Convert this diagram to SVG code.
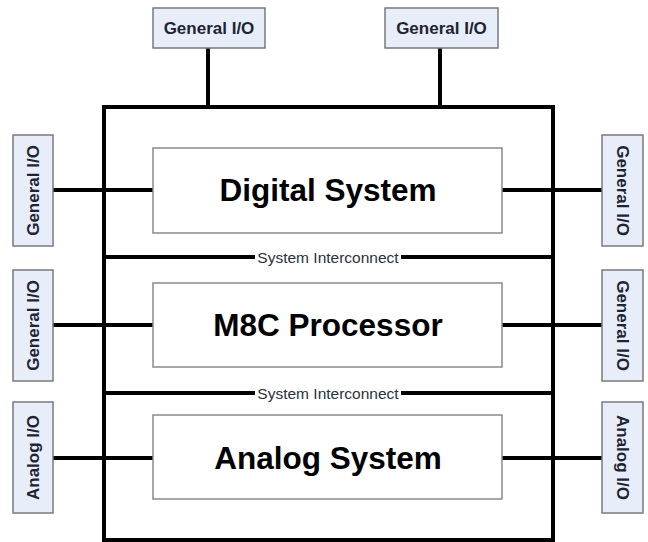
<svg xmlns="http://www.w3.org/2000/svg" width="648" height="542" viewBox="0 0 648 542">
<style>
.io{fill:#e8eef9;stroke:#7a7a7a;stroke-width:1.5}
.iot{font-family:"Liberation Sans",Arial,sans-serif;font-weight:bold;font-size:17px;fill:#1e2433}
.blk{fill:#fff;stroke:#8a8a8a;stroke-width:1.5}
.blt{font-family:"Liberation Sans",Arial,sans-serif;font-weight:bold;font-size:31.5px;fill:#000}
.wire{stroke:#000;stroke-width:4;fill:none}
.sic{font-family:"Liberation Sans",Arial,sans-serif;font-size:15.5px;fill:#2a3040}
</style>
<rect width="648" height="542" fill="#fff"/>
<g id="connectors">
<line class="wire" x1="208" y1="48" x2="208" y2="107"/>
<line class="wire" x1="440" y1="48" x2="440" y2="107"/>
<line class="wire" x1="53" y1="190" x2="155" y2="190"/>
<line class="wire" x1="502" y1="190" x2="602" y2="190"/>
<line class="wire" x1="53" y1="325" x2="155" y2="325"/>
<line class="wire" x1="502" y1="325" x2="602" y2="325"/>
<line class="wire" x1="53" y1="458" x2="155" y2="458"/>
<line class="wire" x1="502" y1="458" x2="602" y2="458"/>
</g>
<g id="outer">
<rect x="104" y="107" width="449" height="433" fill="none" stroke="#000" stroke-width="4"/>
</g>
<g id="interconnect1">
<line class="wire" x1="104" y1="257" x2="255" y2="257"/>
<line class="wire" x1="401" y1="257" x2="553" y2="257"/>
<text class="sic" x="328" y="262.5" text-anchor="middle">System Interconnect</text>
</g>
<g id="interconnect2">
<line class="wire" x1="104" y1="393" x2="255" y2="393"/>
<line class="wire" x1="401" y1="393" x2="553" y2="393"/>
<text class="sic" x="328" y="398.5" text-anchor="middle">System Interconnect</text>
</g>
<g id="digital">
<rect class="blk" x="153" y="148" width="349" height="85"/>
<text class="blt" x="328" y="201" text-anchor="middle">Digital System</text>
</g>
<g id="m8c">
<rect class="blk" x="153" y="283" width="349" height="84"/>
<text class="blt" x="328" y="336" text-anchor="middle">M8C Processor</text>
</g>
<g id="analog">
<rect class="blk" x="153" y="415" width="349" height="84"/>
<text class="blt" x="328" y="469" text-anchor="middle">Analog System</text>
</g>
<g id="io-top-left">
<rect class="io" x="153" y="8" width="112" height="40"/>
<text class="iot" x="209" y="33.5" text-anchor="middle">General I/O</text>
</g>
<g id="io-top-right">
<rect class="io" x="385" y="8" width="113" height="40"/>
<text class="iot" x="441.5" y="33.5" text-anchor="middle">General I/O</text>
</g>
<g id="io-left-1">
<rect class="io" x="13" y="135" width="40" height="111"/>
<text class="iot" transform="translate(39,190.5) rotate(-90)" text-anchor="middle">General I/O</text>
</g>
<g id="io-left-2">
<rect class="io" x="13" y="270" width="40" height="111"/>
<text class="iot" transform="translate(39,325.5) rotate(-90)" text-anchor="middle">General I/O</text>
</g>
<g id="io-left-3">
<rect class="io" x="13" y="402" width="40" height="111"/>
<text class="iot" transform="translate(39,457.5) rotate(-90)" text-anchor="middle">Analog I/O</text>
</g>
<g id="io-right-1">
<rect class="io" x="602" y="135" width="41" height="111"/>
<text class="iot" transform="translate(616.5,190.5) rotate(90)" text-anchor="middle">General I/O</text>
</g>
<g id="io-right-2">
<rect class="io" x="602" y="270" width="41" height="111"/>
<text class="iot" transform="translate(616.5,325.5) rotate(90)" text-anchor="middle">General I/O</text>
</g>
<g id="io-right-3">
<rect class="io" x="602" y="402" width="41" height="111"/>
<text class="iot" transform="translate(616.5,457.5) rotate(90)" text-anchor="middle">Analog I/O</text>
</g>
</svg>
